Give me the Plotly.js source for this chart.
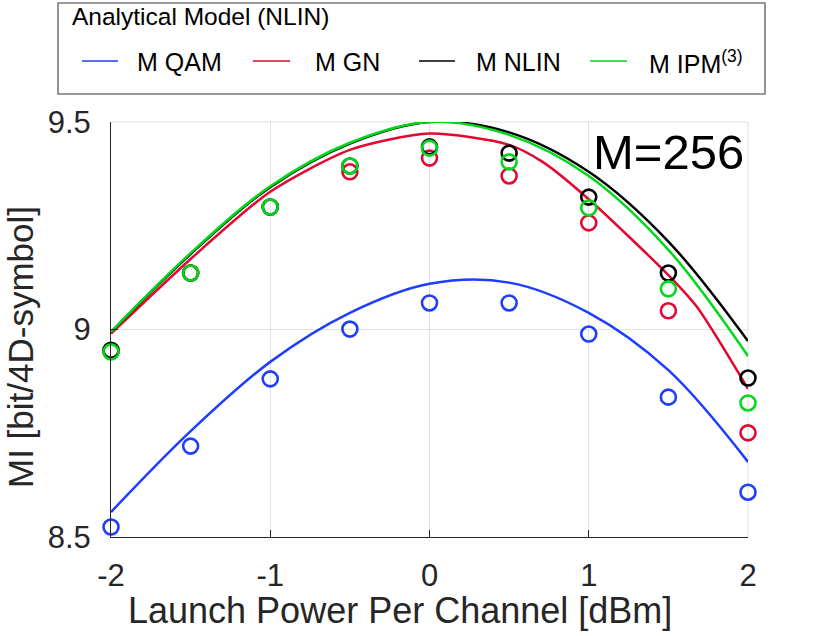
<!DOCTYPE html>
<html>
<head>
<meta charset="utf-8">
<script src="https://cdn.plot.ly/plotly-3.0.1.min.js"></script>
<style>html,body{margin:0;padding:0;background:#fff;}#chart{width:830px;height:636px;}</style>
</head>
<body>
<div id="chart"></div>
<script>
// ---- data ----
const ptX = [-2, -1.5, -1, -0.5, 0, 0.5, 1, 1.5, 2];
const qamPts  = [8.524, 8.719, 8.881, 9.001, 9.064, 9.064, 8.989, 8.837, 8.608];
const gnPts   = [8.948, 9.136, 9.295, 9.380, 9.413, 9.370, 9.257, 9.045, 8.751];
const nlinPts = [8.950, 9.136, 9.295, 9.394, 9.440, 9.425, 9.319, 9.136, 8.883];
const ipmPts  = [8.946, 9.136, 9.295, 9.394, 9.437, 9.404, 9.293, 9.098, 8.823];

const curveX = [-2, -1.5, -1, -0.5, 0, 0.5, 1, 1.5, 2];
const qamCurve  = [8.560, 8.755, 8.922, 9.040, 9.110, 9.113, 9.040, 8.902, 8.681];
const nlinCurve = [8.994, 9.182, 9.343, 9.448, 9.500, 9.475, 9.380, 9.212, 8.972];
const ipmCurve  = [8.994, 9.184, 9.345, 9.450, 9.500, 9.469, 9.370, 9.192, 8.936];
const gnCurveX  = [-2, -1.5, -1, -0.5, 0, 0.5, 0.71, 1, 1.5, 1.68, 2];
const gnCurve   = [8.990, 9.170, 9.332, 9.433, 9.472, 9.445, 9.404, 9.314, 9.131, 9.054, 8.857];

const seriesNames = ['M QAM', 'M GN', 'M NLIN', 'M IPM<sup>(3)</sup>'];
const legendTitle = 'Analytical Model (NLIN)';
const xTicks = [-2, -1, 0, 1, 2];
const yTicks = [8.5, 9, 9.5];

const colors = ['#1f3dff', '#e3082f', '#000000', '#00d81c'];
const FONT = '"Liberation Sans", Arial, Helvetica, sans-serif';

const curves = [
  {x: curveX, y: qamCurve, s: 1},
  {x: gnCurveX, y: gnCurve, s: 0.7},
  {x: curveX, y: nlinCurve, s: 1},
  {x: curveX, y: ipmCurve, s: 1}
];
const pts = [qamPts, gnPts, nlinPts, ipmPts];

const traces = [];
curves.forEach((c, i) => {
  traces.push({x: c.x, y: c.y, type: 'scatter', mode: 'lines',
    line: {color: colors[i], width: 2.5, shape: 'spline', smoothing: c.s},
    showlegend: false, hoverinfo: 'skip'});
});
pts.forEach((p, i) => {
  traces.push({x: ptX, y: p, type: 'scatter', mode: 'markers',
    marker: {symbol: 'circle-open', size: 15, color: colors[i], line: {width: 2.6, color: colors[i]}},
    showlegend: false, cliponaxis: false, hoverinfo: 'skip'});
});

// frame lines (top and right edges of the axes box, light grey like the grid)
const shapes = [
  {type: 'line', xref: 'paper', yref: 'paper', x0: 0, x1: 1, y0: 1, y1: 1, line: {color: '#e1e1e1', width: 1}, layer: 'below'},
  {type: 'line', xref: 'paper', yref: 'paper', x0: 1, x1: 1, y0: 0, y1: 1, line: {color: '#e1e1e1', width: 1}, layer: 'below'},
  {type: 'rect', xref: 'paper', yref: 'paper', x0: -0.0832, x1: 1.0267, y0: 1.0675, y1: 1.2867,
   line: {color: '#7a7a7a', width: 1.6}, fillcolor: '#ffffff', layer: 'above'}
];
// legend drawn manually (paper coordinates)
const legLineX = [[-0.0455, 0.0110], [0.2229, 0.2810], [0.4835, 0.5400], [0.7520, 0.8100]];
const legTextX = [0.0377, 0.3171, 0.5699, 0.8414];
legLineX.forEach((lx, i) => {
  shapes.push({type: 'line', xref: 'paper', yref: 'paper', x0: lx[0], x1: lx[1], y0: 1.147, y1: 1.147,
    line: {color: colors[i], width: 1.6}, layer: 'above'});
});
const annotations = [
  {text: legendTitle, xref: 'paper', yref: 'paper', x: -0.0640, y: 1.2542, xanchor: 'left', yanchor: 'middle',
   showarrow: false, font: {family: FONT, size: 24.5, color: '#000'}},
  {text: 'M=256', xref: 'paper', yref: 'paper', x: 0.754, y: 0.928, xanchor: 'left', yanchor: 'middle',
   showarrow: false, font: {family: FONT, size: 49, color: '#000'}},
  {text: 'MI [bit/4D-symbol]', xref: 'paper', yref: 'paper', x: -0.1429, y: 0.4578, xanchor: 'center', yanchor: 'middle',
   textangle: -90, showarrow: false, font: {family: FONT, size: 35, color: '#262626'}},
  {text: 'Launch Power Per Channel [dBm]', xref: 'paper', yref: 'paper', x: 0.4537, y: -0.176, xanchor: 'center', yanchor: 'middle',
   showarrow: false, font: {family: FONT, size: 36, color: '#262626'}}
];
seriesNames.forEach((n, i) => {
  annotations.push({text: n, xref: 'paper', yref: 'paper', x: legTextX[i], y: 1.1446, xanchor: 'left', yanchor: 'middle',
    showarrow: false, font: {family: FONT, size: 25, color: '#000'}});
});

const layout = {
  width: 830, height: 636,
  margin: {l: 111, r: 82, t: 122, b: 99, pad: 0},
  paper_bgcolor: '#ffffff', plot_bgcolor: '#ffffff',
  font: {family: FONT, color: '#262626'},
  showlegend: false,
  xaxis: {range: [-2, 2], tickvals: xTicks, ticktext: xTicks.map(String),
    showgrid: true, gridcolor: '#e1e1e1', gridwidth: 1, zeroline: false,
    showline: true, linecolor: '#262626', linewidth: 1,
    ticks: 'inside', ticklen: 7, tickcolor: '#262626',
    tickfont: {family: FONT, size: 31, color: '#262626'}, ticklabelstandoff: 11},
  yaxis: {range: [8.5, 9.5], tickvals: yTicks, ticktext: ['8.5', '9', '9.5'],
    showgrid: true, gridcolor: '#e1e1e1', gridwidth: 1, zeroline: false,
    showline: true, linecolor: '#262626', linewidth: 1,
    ticks: 'inside', ticklen: 7, tickcolor: '#262626',
    tickfont: {family: FONT, size: 31, color: '#262626'}, ticklabelstandoff: 13},
  shapes: shapes,
  annotations: annotations
};

Plotly.newPlot('chart', traces, layout, {staticPlot: true, displayModeBar: false});
</script>
</body>
</html>
